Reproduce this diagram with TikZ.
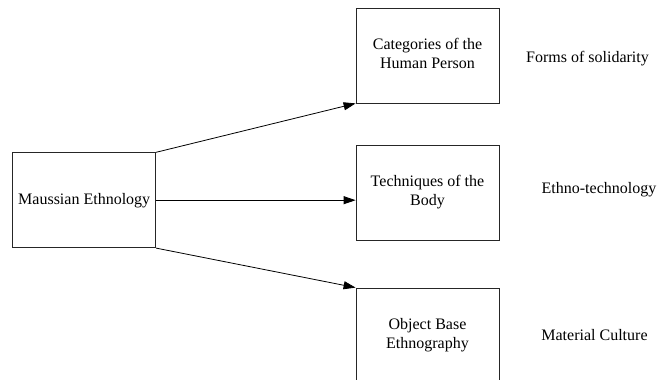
\documentclass[tikz,border=0pt]{standalone}
\usepackage{fontspec}
\setmainfont{Liberation Serif}
\usetikzlibrary{arrows.meta}
\newcommand\lowtext[1]{\raisebox{-3pt}{\begin{tabular}{@{}c@{}}#1\end{tabular}}}
\begin{document}
\begin{tikzpicture}[x=1pt,y=-1pt,
  box/.style={draw=black!85, line width=0.8pt, minimum width=143pt, minimum height=95pt,
    inner sep=0pt, align=center, font=\fontsize{16}{19}\selectfont},
  lbl/.style={font=\fontsize{16}{19}\selectfont, inner sep=0pt},
  conn/.style={draw=black, line width=0.8pt, -{Triangle[length=12pt,width=8pt]}}]
\clip (0,0) rectangle (659,380);
\node[box] (maus) at (84.2,200.2) {Maussian Ethnology};
\node[box] (cat) at (427.5,55.5) {\lowtext{Categories of the\\Human Person}};
\node[box] (tech) at (427.5,192.5) {\lowtext{Techniques of the\\Body}};
\node[box] (obj) at (427.5,335.5) {\lowtext{Object Base\\Ethnography}};
\node[lbl] (forms) at (587.5,59) {Forms of solidarity};
\node[lbl] (ethno) at (599,190) {Ethno-technology};
\node[lbl] (mat) at (594.5,335) {Material Culture};
\draw[conn] (maus.north east) -- (cat.south west);
\draw[conn] (maus.east) -- (maus.east -| tech.west);
\draw[conn] (maus.south east) -- (obj.north west);
\end{tikzpicture}
\end{document}
